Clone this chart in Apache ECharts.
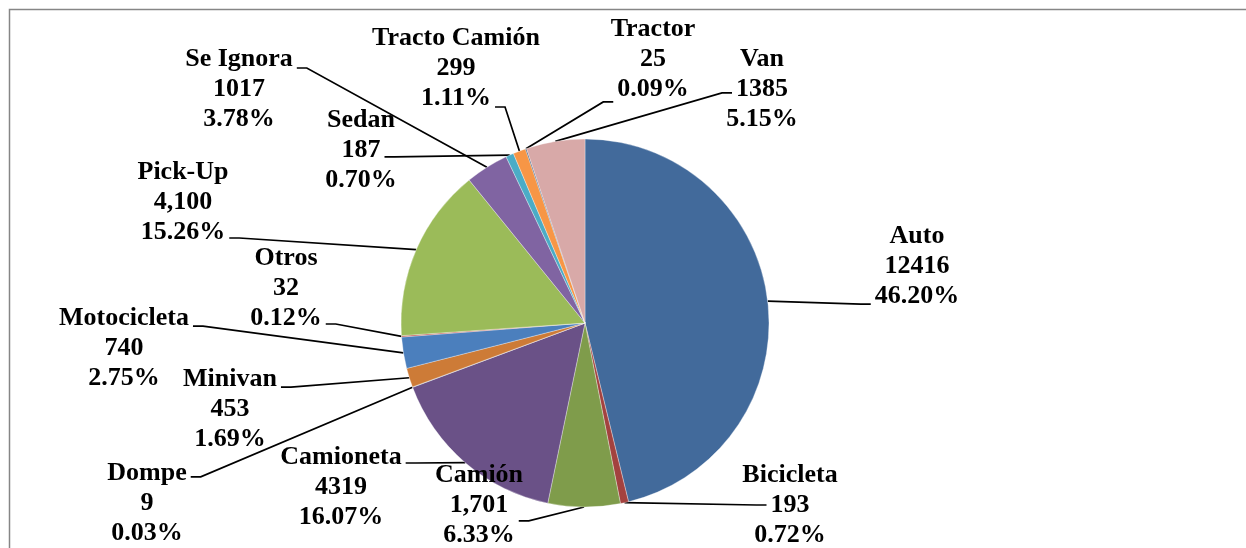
<!DOCTYPE html>
<html>
<head>
<meta charset="utf-8">
<script src="https://cdn.jsdelivr.net/npm/echarts@6/dist/echarts.min.js"></script>
<style>
  html, body { margin: 0; padding: 0; background: #ffffff; }
  #chart { width: 1246px; height: 548px; }
</style>
</head>
<body>
<div id="chart"></div>
<script>
// Vehicles by type
const categories = ['Auto', 'Bicicleta', 'Camión', 'Camioneta', 'Dompe', 'Minivan', 'Motocicleta',
  'Otros', 'Pick-Up', 'Se Ignora', 'Sedan', 'Tracto Camión', 'Tractor', 'Van'];
const counts = [12416, 193, 1701, 4319, 9, 453, 740, 32, 4100, 1017, 187, 299, 25, 1385];
// categories whose count is printed with a thousands separator
const groupedCounts = ['Camión', 'Pick-Up'];

const sliceColors = ['#426A9B', '#A3423F', '#7F9C4B', '#6A5187', '#3D8FA8', '#CD7B37', '#4B7FBD',
  '#C0504D', '#9BBB59', '#8064A2', '#4BACC6', '#F79646', '#2C4D75', '#D8A9A8'];

// label blocks: x = centre of the text block, y = centre of its first row,
// row/side = where the leader line meets the text
const labelSpots = [
  { x: 917, y: 236, row: 2.27, side: 'left' },
  { x: 790, y: 475, row: 1.0, side: 'left' },
  { x: 479, y: 475, row: 1.53, side: 'right' },
  { x: 341, y: 457, row: 0.2, side: 'right' },
  { x: 147, y: 473, row: 0.13, side: 'right' },
  { x: 230, y: 379, row: 0.27, side: 'right' },
  { x: 124, y: 318, row: 0.27, side: 'right' },
  { x: 286, y: 258, row: 2.2, side: 'right' },
  { x: 183, y: 172, row: 2.2, side: 'right' },
  { x: 239, y: 59, row: 0.3, side: 'right' },
  { x: 361, y: 120, row: 1.23, side: 'right' },
  { x: 456, y: 38, row: 2.3, side: 'right' },
  { x: 653, y: 29, row: 2.43, side: 'left' },
  { x: 762, y: 59, row: 1.13, side: 'left' }
];

const FONT_SIZE = 26;
const LINE_H = 30;
const FONT_FAMILY = '"Liberation Serif", "Times New Roman", serif';
const GAP = 4;
const STUB = 10;

const total = counts.reduce((a, b) => a + b, 0);

function labelRows(i) {
  const name = categories[i];
  const v = counts[i];
  const countText = groupedCounts.indexOf(name) >= 0 ? v.toLocaleString('en-US') : String(v);
  const pctText = (v / total * 100).toFixed(2) + '%';
  return [name, countText, pctText];
}

const measureCtx = document.createElement('canvas').getContext('2d');
measureCtx.font = 'bold ' + FONT_SIZE + 'px ' + FONT_FAMILY;
function textWidth(s) { return measureCtx.measureText(s).width; }

const chart = echarts.init(document.getElementById('chart'), null, { renderer: 'canvas' });

const option = {
  backgroundColor: '#ffffff',
  animation: false,
  graphic: [{
    type: 'rect',
    silent: true,
    shape: { x: 9.5, y: 9.5, width: 1400, height: 700 },
    style: { fill: 'none', stroke: '#868686', lineWidth: 1.5 }
  }],
  series: [{
    type: 'pie',
    center: [585, 323],
    radius: 184,
    startAngle: 90,
    clockwise: true,
    avoidLabelOverlap: false,
    emphasis: { disabled: true },
    itemStyle: { borderColor: 'rgba(255,255,255,0.55)', borderWidth: 0.6 },
    data: categories.map((name, i) => ({
      name: name,
      value: counts[i],
      itemStyle: { color: sliceColors[i] }
    })),
    label: {
      show: true,
      position: 'outside',
      color: '#000000',
      fontFamily: FONT_FAMILY,
      fontWeight: 'bold',
      fontSize: FONT_SIZE,
      lineHeight: LINE_H,
      align: 'center',
      formatter: p => labelRows(p.dataIndex).join('\n')
    },
    labelLine: {
      show: true,
      length: 10,
      length2: 10,
      lineStyle: { color: '#000000', width: 1.7 }
    },
    labelLayout: function (params) {
      const i = params.dataIndex;
      const spot = labelSpots[i];
      const rows = labelRows(i);
      const w = textWidth(rows[Math.min(2, Math.round(spot.row))]);
      const dir = spot.side === 'right' ? 1 : -1;
      const endX = spot.x + dir * (w / 2 + GAP);
      const endY = spot.y + spot.row * LINE_H;
      const elbowX = endX + dir * STUB;

      const lay = chart.getModel().getSeriesByIndex(0).getData().getItemLayout(i);
      const mid = (lay.startAngle + lay.endAngle) / 2;
      const p0 = [lay.cx + lay.r * Math.cos(mid), lay.cy + lay.r * Math.sin(mid)];

      return {
        x: spot.x,
        y: spot.y - LINE_H / 2,
        align: 'center',
        verticalAlign: 'top',
        labelLinePoints: [p0, [elbowX, endY], [endX, endY]]
      };
    }
  }]
};

chart.setOption(option);
</script>
</body>
</html>
